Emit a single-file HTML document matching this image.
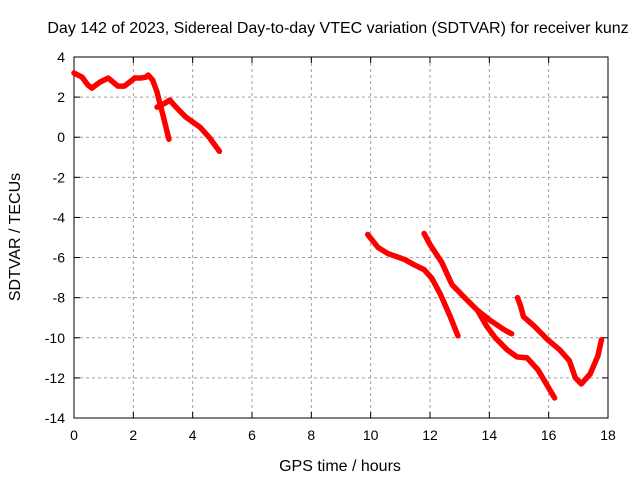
<!DOCTYPE html>
<html><head><meta charset="utf-8"><style>
body{margin:0;background:#fff}
svg{font-family:"Liberation Sans",sans-serif;font-size:14px}
</style></head><body>
<svg id="c" width="640" height="480"></svg>
<script>
const xTicks=[0,2,4,6,8,10,12,14,16,18];
const yTicks=[4,2,0,-2,-4,-6,-8,-10,-12,-14];
const segA_x=[0,0.27,0.47,0.6,0.88,1.15,1.48,1.7,2.05,2.25,2.43,2.5,2.65,2.8,2.9,3.0,3.1,3.2];
const segA_y=[3.2,3.0,2.6,2.45,2.75,2.95,2.55,2.55,2.95,2.95,3.0,3.1,2.85,2.25,1.65,1.1,0.5,-0.1];
const segB_x=[2.8,3.07,3.23,3.44,3.77,4.25,4.58,4.9];
const segB_y=[1.5,1.7,1.85,1.5,1.0,0.5,-0.05,-0.7];
const segC_x=[9.9,10.25,10.58,11.15,11.45,11.8,12.07,12.34,12.67,12.94];
const segC_y=[-4.85,-5.5,-5.8,-6.1,-6.35,-6.6,-7.05,-7.8,-8.9,-9.9];
const segD_x=[11.8,12.0,12.4,12.74,13.17,13.61,14.0,14.5,14.75];
const segD_y=[-4.8,-5.35,-6.25,-7.35,-8.0,-8.65,-9.1,-9.6,-9.8];
const segE_x=[13.61,13.9,14.2,14.6,14.93,15.27,15.64,15.94,16.2];
const segE_y=[-8.65,-9.4,-10.0,-10.6,-10.95,-11.0,-11.6,-12.35,-13.0];
const segF_x=[14.95,15.05,15.15,15.5,15.97,16.37,16.7,16.9,17.1,17.4,17.66,17.78];
const segF_y=[-8.0,-8.4,-8.95,-9.4,-10.1,-10.6,-11.15,-12.0,-12.3,-11.8,-10.9,-10.1];
const L=74,R=608,T=57,B=418;
const X=v=>L+(v-0)/18*(R-L);
const Y=v=>T+(4-v)/18*(B-T);
const s=document.getElementById('c');const NS='http://www.w3.org/2000/svg';
function add(tag,attrs,txt){const e=document.createElementNS(NS,tag);for(const k in attrs)e.setAttribute(k,attrs[k]);if(txt!==undefined)e.textContent=txt;s.appendChild(e);return e;}
xTicks.forEach(t=>{
 if(t>0&&t<18){const g=add('line',{x1:X(t),x2:X(t),y1:T,y2:B,stroke:'#a0a0a0','stroke-dasharray':'3,3'});
 
 }
 const tk=add('line',{x1:X(t),x2:X(t),y1:B,y2:B-6,stroke:'#000'});
 
 
 const tk2=add('line',{x1:X(t),x2:X(t),y1:T,y2:T+6,stroke:'#000'});
 
 
 const lb=add('text',{x:X(t),y:B+22,'text-anchor':'middle'},String(t));
 
 
});
yTicks.forEach(t=>{
 if(t<4&&t>-14){const g=add('line',{x1:L,x2:R,y1:Y(t),y2:Y(t),stroke:'#a0a0a0','stroke-dasharray':'3,3'});
 
 }
 const tk=add('line',{x1:L,x2:L+6,y1:Y(t),y2:Y(t),stroke:'#000'});
 
 
 const tk2=add('line',{x1:R,x2:R-6,y1:Y(t),y2:Y(t),stroke:'#000'});
 
 
 const lb=add('text',{x:L-9,y:Y(t)+5,'text-anchor':'end'},String(t));
 
 
});
const fr=add('rect',{x:L,y:T,width:R-L,height:B-T,fill:'none',stroke:'#000'});


[[segA_x,segA_y],[segB_x,segB_y],[segC_x,segC_y],[segD_x,segD_y],[segE_x,segE_y],[segF_x,segF_y]].forEach(([xs,ys])=>{
 const p=add('polyline',{points:xs.map((x,i)=>X(x)+','+Y(ys[i])).join(' '),fill:'none',stroke:'#ff0000','stroke-width':5.5,'stroke-linejoin':'round','stroke-linecap':'round'});
 
 
});
const ti=add('text',{x:338,y:33,'text-anchor':'middle','font-size':'16px'},'Day 142 of 2023, Sidereal Day-to-day VTEC variation (SDTVAR) for receiver kunz');


const xt=add('text',{x:340,y:471,'text-anchor':'middle','font-size':'16px'},'GPS time / hours');


const yt=add('text',{x:20,y:237,'text-anchor':'middle','font-size':'16px',transform:'rotate(-90 20 237)'},'SDTVAR / TECUs');


</script>
</body></html>
